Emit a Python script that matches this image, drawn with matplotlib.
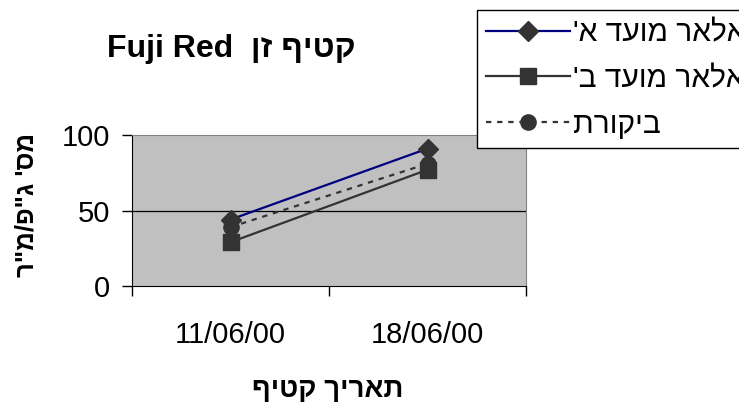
import matplotlib
matplotlib.use('Agg')
import matplotlib.pyplot as plt

plt.rcParams['font.family'] = ['Liberation Sans', 'DejaVu Sans']

# Harvest dates and the three treatments
dates = ['11/06/00', '18/06/00']
series_a = [44, 91]
series_b = [29, 77]
control = [39, 81]
names = ["אלאר מועד א'", "אלאר מועד ב'", 'ביקורת']
title_he = 'קטיף זן'
title_en = 'Fuji Red'
xlabel_he = 'תאריך קטיף'
ylabel_he = 'מס\' ג"פ/מ"ר'
yticks = [0, 50, 100]


def rtl(s):
    # matplotlib has no bidi support, so hebrew is laid out reversed by hand
    return s[::-1]


def main():
    fig = plt.figure(figsize=(7.39, 4.03), dpi=100)
    ax = fig.add_axes([132 / 739, 1 - 286 / 403, 394 / 739, 151 / 403])
    ax.set_facecolor('#c0c0c0')

    x = list(range(len(dates)))
    ax.plot(x, series_a, color='#000080', lw=1.6, marker='D', ms=10,
            mfc='#333333', mec='#333333', label=rtl(names[0]), zorder=3)
    ax.plot(x, series_b, color='#333333', lw=1.6, marker='s', ms=11,
            mfc='#333333', mec='#333333', label=rtl(names[1]), zorder=3)
    ax.plot(x, control, color='#333333', lw=1.6, ls=(0, (2.4, 2.6)), marker='o', ms=11,
            mfc='#333333', mec='#333333', label=rtl(names[2]), zorder=4)

    ax.set_xlim(-0.5, len(dates) - 0.5)
    ax.set_ylim(0, 100)

    ax.set_yticks(yticks)
    ax.set_yticklabels([str(v) for v in yticks], fontsize=21)
    ax.tick_params(axis='y', length=7, width=1, pad=9, color='black')

    ax.set_xticks(x)
    ax.set_xticklabels(dates, fontsize=21)
    ax.set_xticks([i - 0.5 for i in range(len(dates) + 1)], minor=True)
    ax.tick_params(axis='x', which='major', length=0, pad=25)
    ax.tick_params(axis='x', which='minor', length=7, width=1, color='black')

    ax.axhline(50, color='black', lw=0.9, zorder=1)
    for side in ['top', 'right']:
        ax.spines[side].set_color('#808080')
    for side in ['left', 'bottom']:
        ax.spines[side].set_color('black')

    fig.text(231 / 739, 1 - 49 / 403, title_en + '  ' + rtl(title_he),
             fontsize=23, fontweight='bold', ha='center', va='center')
    fig.text(328 / 739, 1 - 390 / 403, rtl(xlabel_he), fontsize=20,
             fontweight='bold', ha='center', va='center')
    fig.text(26 / 739, 1 - 205 / 403, rtl(ylabel_he), fontsize=18.5,
             fontweight='bold', ha='center', va='center', rotation=90)

    leg = ax.legend(loc='upper left', bbox_to_anchor=(477 / 739, 1 - 10 / 403),
                    bbox_transform=fig.transFigure, fontsize=21.5, frameon=True,
                    fancybox=False, framealpha=1, edgecolor='black',
                    borderaxespad=0, borderpad=0.3, handlelength=2.8,
                    handletextpad=0.12, labelspacing=0.6)
    leg.get_frame().set_linewidth(1)

    fig.savefig('out.png', dpi=100)


if __name__ == '__main__':
    main()
